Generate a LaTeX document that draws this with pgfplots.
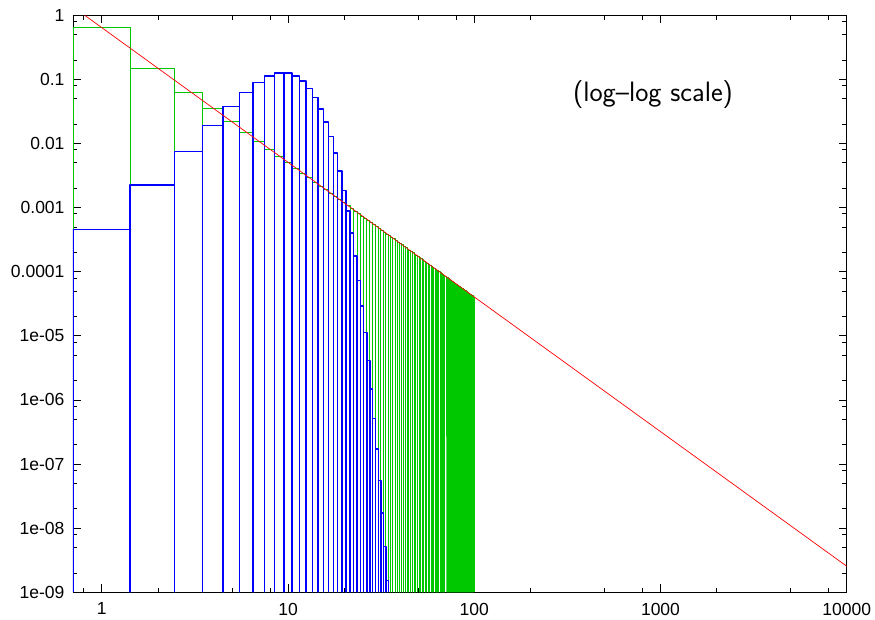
\documentclass[border=0pt]{standalone}
\usepackage{pgfplots}
\pgfplotsset{compat=1.18}
\usepackage{pgfplotstable}
\usepackage{fontspec}
\setmainfont{Liberation Sans}

\definecolor{gpgreen}{RGB}{0,200,0}
\definecolor{gpblue}{RGB}{0,0,255}
\definecolor{gpred}{RGB}{255,0,0}

% box outlines: left edge at the floor, left edge at the box height, next edge at the floor ...
\pgfplotstableread{
x y
0.7 1e-9
0.7 0.6409
1.4142 1e-9
1.4142 0.1495
2.4495 1e-9
2.4495 0.06381
3.4641 1e-9
3.4641 0.03487
4.4721 1e-9
4.4721 0.02183
5.4772 1e-9
5.4772 0.01489
6.4807 1e-9
6.4807 0.01077
7.4833 1e-9
7.4833 0.008135
8.4853 1e-9
8.4853 0.006352
9.4868 1e-9
9.4868 0.005091
10.4881 1e-9
10.4881 0.004168
11.4891 1e-9
11.4891 0.003472
12.4900 1e-9
12.4900 0.002935
13.4907 1e-9
13.4907 0.002512
14.4914 1e-9
14.4914 0.002173
15.4919 1e-9
15.4919 0.001898
16.4924 1e-9
16.4924 0.001671
17.4929 1e-9
17.4929 0.001482
18.4932 1e-9
18.4932 0.001323
19.4936 1e-9
19.4936 0.001188
20.494 1e-9
20.494 0.001072
21.494 1e-9
21.494 9.722e-4
22.495 1e-9
22.495 8.855e-4
23.495 1e-9
23.495 8.098e-4
24.495 1e-9
24.495 7.433e-4
25.495 1e-9
25.495 6.845e-4
26.496 1e-9
26.496 6.324e-4
27.496 1e-9
27.496 5.858e-4
28.496 1e-9
28.496 5.442e-4
29.496 1e-9
29.496 5.068e-4
30.5 1e-9
30.5 4.731e-4
31.5 1e-9
31.5 4.426e-4
32.5 1e-9
32.5 4.149e-4
33.5 1e-9
33.5 3.897e-4
34.5 1e-9
34.5 3.667e-4
35.5 1e-9
35.5 3.456e-4
36.5 1e-9
36.5 3.263e-4
37.5 1e-9
37.5 3.085e-4
38.5 1e-9
38.5 2.921e-4
39.5 1e-9
39.5 2.770e-4
40.5 1e-9
40.5 2.630e-4
41.5 1e-9
41.5 2.500e-4
42.5 1e-9
42.5 2.380e-4
43.5 1e-9
43.5 2.268e-4
44.5 1e-9
44.5 2.163e-4
45.5 1e-9
45.5 2.066e-4
46.5 1e-9
46.5 1.974e-4
47.5 1e-9
47.5 1.889e-4
48.5 1e-9
48.5 1.809e-4
49.5 1e-9
49.5 1.734e-4
50.5 1e-9
50.5 1.663e-4
51.5 1e-9
51.5 1.597e-4
52.5 1e-9
52.5 1.534e-4
53.5 1e-9
53.5 1.475e-4
54.5 1e-9
54.5 1.419e-4
55.5 1e-9
55.5 1.367e-4
56.5 1e-9
56.5 1.317e-4
57.5 1e-9
57.5 1.269e-4
58.5 1e-9
58.5 1.225e-4
59.5 1e-9
59.5 1.182e-4
60.5 1e-9
60.5 1.142e-4
61.5 1e-9
61.5 1.104e-4
62.5 1e-9
62.5 1.067e-4
63.5 1e-9
63.5 1.032e-4
64.5 1e-9
64.5 9.993e-5
65.5 1e-9
65.5 9.678e-5
66.5 1e-9
66.5 9.377e-5
67.5 1e-9
67.5 9.090e-5
68.5 1e-9
68.5 8.816e-5
69.5 1e-9
69.5 8.554e-5
70.5 1e-9
70.5 8.302e-5
71.5 1e-9
71.5 8.063e-5
72.5 1e-9
72.5 7.832e-5
73.5 1e-9
73.5 7.611e-5
74.5 1e-9
74.5 7.400e-5
75.5 1e-9
75.5 7.197e-5
76.5 1e-9
76.5 7.002e-5
77.5 1e-9
77.5 6.815e-5
78.5 1e-9
78.5 6.634e-5
79.5 1e-9
79.5 6.461e-5
80.5 1e-9
80.5 6.295e-5
81.5 1e-9
81.5 6.135e-5
82.5 1e-9
82.5 5.981e-5
83.5 1e-9
83.5 5.833e-5
84.5 1e-9
84.5 5.690e-5
85.5 1e-9
85.5 5.552e-5
86.5 1e-9
86.5 5.418e-5
87.5 1e-9
87.5 5.290e-5
88.5 1e-9
88.5 5.165e-5
89.5 1e-9
89.5 5.046e-5
90.5 1e-9
90.5 4.930e-5
91.5 1e-9
91.5 4.818e-5
92.5 1e-9
92.5 4.710e-5
93.5 1e-9
93.5 4.605e-5
94.5 1e-9
94.5 4.505e-5
95.5 1e-9
95.5 4.407e-5
96.5 1e-9
96.5 4.312e-5
97.5 1e-9
97.5 4.220e-5
98.5 1e-9
98.5 4.131e-5
99.5 1e-9
99.5 4.044e-5
100.5 1e-9
}\zipf

\pgfplotstableread{
x y
0.7 1e-9
0.7 4.540e-4
1.4142 1e-9
1.4142 2.270e-3
2.4495 1e-9
2.4495 7.567e-3
3.4641 1e-9
3.4641 1.892e-2
4.4721 1e-9
4.4721 3.783e-2
5.4772 1e-9
5.4772 6.306e-2
6.4807 1e-9
6.4807 9.008e-2
7.4833 1e-9
7.4833 0.1126
8.4853 1e-9
8.4853 0.1251
9.4868 1e-9
9.4868 0.1251
10.4881 1e-9
10.4881 0.1137
11.4891 1e-9
11.4891 0.09478
12.4900 1e-9
12.4900 0.07291
13.4907 1e-9
13.4907 0.05208
14.4914 1e-9
14.4914 0.03472
15.4919 1e-9
15.4919 0.02170
16.4924 1e-9
16.4924 0.01276
17.4929 1e-9
17.4929 7.091e-3
18.4932 1e-9
18.4932 3.732e-3
19.4936 1e-9
19.4936 1.866e-3
20.494 1e-9
20.494 8.886e-4
21.494 1e-9
21.494 4.039e-4
22.495 1e-9
22.495 1.756e-4
23.495 1e-9
23.495 7.317e-5
24.495 1e-9
24.495 2.927e-5
25.495 1e-9
25.495 1.126e-5
26.496 1e-9
26.496 4.169e-6
27.496 1e-9
27.496 1.489e-6
28.496 1e-9
28.496 5.134e-7
29.496 1e-9
29.496 1.711e-7
30.5 1e-9
30.5 5.521e-8
31.5 1e-9
31.5 1.725e-8
32.5 1e-9
32.5 5.228e-9
33.5 1e-9
33.5 1.538e-9
34.5 1e-9
}\poisson

\begin{document}
\begin{tikzpicture}
\begin{axis}[
    set layers,
    scale only axis,
    width=773.7pt, height=577pt,
    xmode=log, ymode=log,
    xmin=0.7, xmax=10000,
    ymin=1e-9, ymax=1,
    xtick={1,10,100,1000,10000},
    xticklabels={1,10,100,1000,10000},
    minor xtick={0.8,2,5,8,20,50,80,200,500,800,2000,5000,8000},
    ytick={1e-9,1e-8,1e-7,1e-6,1e-5,1e-4,1e-3,1e-2,1e-1,1},
    yticklabels={1e-09,1e-08,1e-07,1e-06,1e-05,0.0001,0.001,0.01,0.1,1},
    minor ytick={2e-9,5e-9,8e-9,2e-8,5e-8,8e-8,2e-7,5e-7,8e-7,2e-6,5e-6,8e-6,
                 2e-5,5e-5,8e-5,2e-4,5e-4,8e-4,2e-3,5e-3,8e-3,0.02,0.05,0.08,0.2,0.5,0.8},
    tick align=inside,
    major tick length=8pt,
    minor tick length=4.5pt,
    every tick/.style={black, line width=0.8pt},
    axis line style={line width=0.8pt},
    ticklabel style={font=\fontsize{17.5}{20}\selectfont},
    xticklabel style={yshift=-7pt},
    yticklabel style={xshift=-5pt},
]
\addplot[const plot mark left, gpgreen, line width=0.75pt, line join=bevel] table {\zipf};
\addplot[const plot mark left, gpblue, line width=1.4pt, line join=bevel] table {\poisson};
\addplot[gpred, line width=0.7pt] coordinates {(0.8091,1) (10000,2.552e-9)};
\node at (rel axis cs:0.7497,0.862) {\sffamily\fontsize{28}{34}\selectfont (log–log scale)};
\end{axis}
\path (-73pt,-26.7pt) rectangle (802pt,592.3pt);
\end{tikzpicture}
\end{document}
